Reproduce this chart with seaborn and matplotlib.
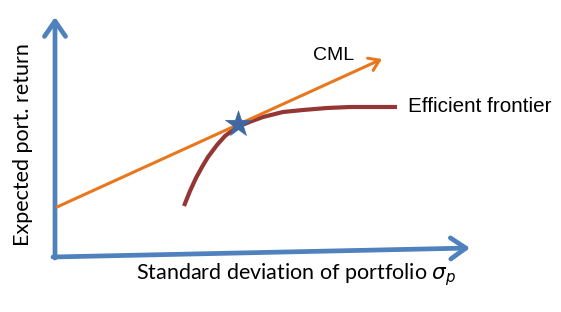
import matplotlib
matplotlib.use("Agg")
import matplotlib.pyplot as plt
import seaborn as sns
import pandas as pd

sns.set_style("white")
plt.rcParams['font.family'] = ['Liberation Sans', 'DejaVu Sans']

# Data (arbitrary units)
cml_x = [2, 327]
cml_y = [50, 198]
front_x = [129, 135, 141, 147, 153, 162, 170, 178, 187, 197, 208, 228, 248, 272, 295, 318, 342]
front_y = [51, 66, 79, 90, 100, 112, 121, 127, 132, 136, 140, 145, 147, 149, 150, 150, 150]
star_x = [183]
star_y = [133]
yaxis_end = (0, 240)
xaxis_end = (415, 9)

AXIS_C = "#4F81BD"
CML_C = "#E8771E"
FRONT_C = "#943634"
STAR_C = "#3F67A0"

fig = plt.figure(figsize=(5.61, 3.12), dpi=100)
ax = fig.add_axes([0, 0, 1, 1])
ax.set_xlim(-55, 506)
ax.set_ylim(-55, 257)
ax.axis("off")

# axes arrows
ax.annotate("", xy=yaxis_end, xytext=(0, -1),
            arrowprops=dict(arrowstyle="->,head_length=0.55,head_width=0.38",
                            lw=3.4, color=AXIS_C, mutation_scale=20,
                            shrinkA=0, shrinkB=0))
ax.annotate("", xy=xaxis_end, xytext=(-2, 0),
            arrowprops=dict(arrowstyle="->,head_length=0.55,head_width=0.38",
                            lw=3.4, color=AXIS_C, mutation_scale=20,
                            shrinkA=0, shrinkB=0))

# frontier
df_f = pd.DataFrame({"x": front_x, "y": front_y})
sns.lineplot(data=df_f, x="x", y="y", ax=ax, color=FRONT_C, lw=3.0,
             sort=False, solid_capstyle="butt", solid_joinstyle="round")

# CML
ax.annotate("", xy=(cml_x[1], cml_y[1]), xytext=(cml_x[0], cml_y[0]),
            arrowprops=dict(arrowstyle="->,head_length=0.45,head_width=0.3",
                            lw=2.2, color=CML_C, mutation_scale=16,
                            shrinkA=0, shrinkB=0))

# star
sns.scatterplot(x=star_x, y=star_y, ax=ax, marker="*", s=380, color=STAR_C,
                edgecolor=STAR_C, linewidth=0.5, zorder=5)

ax.text(279, 202, "CML", fontsize=14, ha="center", va="center", color="black")
ax.text(353, 150, "Efficient frontier", fontsize=14.9, ha="left", va="center",
        color="black")
ax.text(-32, 112, "Expected port. return", fontsize=15.5, rotation=90,
        ha="center", va="center", family=["Lato", "DejaVu Sans"], color="black")
ax.text(241, -18, r"Standard deviation of portfolio $\sigma_p$", fontsize=15.5,
        ha="center", va="center", family=["Lato", "DejaVu Sans"], color="black")

fig.savefig("out.png", dpi=100)
